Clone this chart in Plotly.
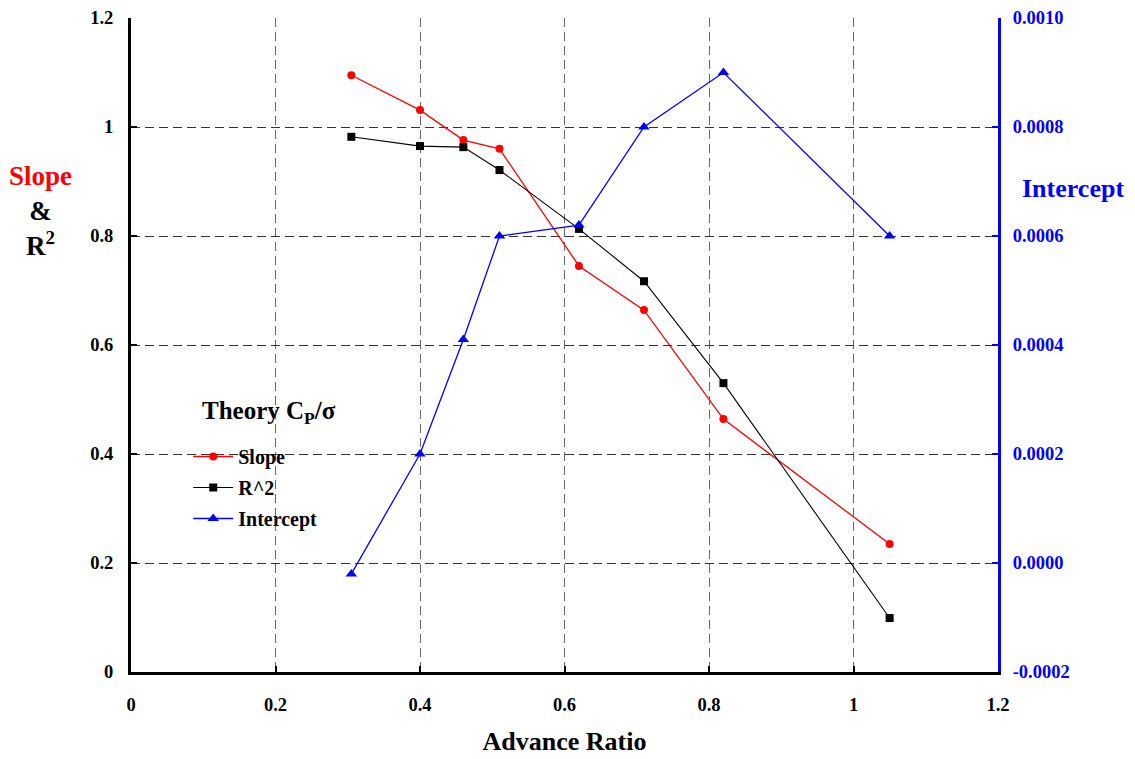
import plotly.graph_objects as go

advance_ratio = [0.305, 0.40, 0.46, 0.51, 0.62, 0.71, 0.82, 1.05]
slope = [1.095, 1.031, 0.976, 0.960, 0.745, 0.664, 0.464, 0.235]
r_squared = [0.982, 0.965, 0.963, 0.921, 0.813, 0.717, 0.530, 0.099]
intercept = [-0.00002, 0.00020, 0.00041, 0.00060, 0.00062, 0.00080, 0.00090, 0.00060]

left_ticks = [0, 0.2, 0.4, 0.6, 0.8, 1, 1.2]
right_ticks = [-0.0002, 0.0, 0.0002, 0.0004, 0.0006, 0.0008, 0.0010]
x_ticks = [0, 0.2, 0.4, 0.6, 0.8, 1, 1.2]

FONT = "Liberation Serif"
TICK = 18.5

fig = go.Figure()
fig.add_trace(go.Scatter(x=advance_ratio, y=slope, name="<b>Slope</b>", mode="lines+markers",
                         legendgroup="a",
                         line=dict(color="#ff0000", width=1.3),
                         marker=dict(symbol="circle", size=8, color="#ff0000")))
fig.add_trace(go.Scatter(x=advance_ratio, y=r_squared, name="<b>R^2</b>", mode="lines+markers",
                         legendgroup="b",
                         line=dict(color="#000000", width=1.1),
                         marker=dict(symbol="square", size=8, color="#000000")))
fig.add_trace(go.Scatter(x=advance_ratio, y=intercept, name="<b>Intercept</b>", mode="lines+markers",
                         yaxis="y2", legendgroup="c",
                         line=dict(color="#0000ff", width=1.3),
                         marker=dict(symbol="triangle-up", size=10, color="#0000ff")))

fig.update_layout(
    width=1135, height=759,
    margin=dict(l=123, r=145, t=10, b=95),
    paper_bgcolor="white", plot_bgcolor="white",
    font=dict(family=FONT, size=20, color="black"),
    showlegend=True,
    legend=dict(x=0.066, y=(672 - 437) / 654, xanchor="left", yanchor="top",
                bgcolor="rgba(0,0,0,0)",
                font=dict(size=20, family=FONT), tracegroupgap=2, itemwidth=40),
    xaxis=dict(range=[0, 1.2], tickvals=x_ticks, ticktext=[f"<b>{v:g}</b>" for v in x_ticks],
               showgrid=True, gridcolor="#666666", griddash="9px,5px", gridwidth=1,
               showline=True, linecolor="black", linewidth=3,
               ticks="inside", ticklen=6, tickcolor="black", tickwidth=2,
               zeroline=False, tickfont=dict(size=TICK, family=FONT), ticklabelstandoff=14,
               ticklabeloverflow="allow", automargin=False,
               title=dict(text="<b>Advance Ratio</b>", font=dict(size=26, family=FONT), standoff=18)),
    yaxis=dict(range=[0, 1.2], tickvals=left_ticks, ticktext=[f"<b>{v:g}</b>" for v in left_ticks],
               showgrid=True, gridcolor="#333333", griddash="9px,5px", gridwidth=1,
               showline=True, linecolor="black", linewidth=3,
               ticks="inside", ticklen=6, tickcolor="black", tickwidth=2,
               zeroline=False, tickfont=dict(size=TICK, family=FONT), ticklabelstandoff=11,
               ticklabeloverflow="allow", automargin=False),
    yaxis2=dict(range=[-0.0002, 0.0010], overlaying="y", side="right",
                tickvals=right_ticks, ticktext=[f"<b>{v:.4f}</b>" for v in right_ticks],
                showgrid=False, showline=True, linecolor="#0000ff", linewidth=3,
                ticks="inside", ticklen=6, tickcolor="#0000ff", tickwidth=2,
                zeroline=False, tickfont=dict(size=TICK, color="#0000ff", family=FONT),
                ticklabelstandoff=8, ticklabeloverflow="allow", automargin=False),
)

fig.add_annotation(xref="paper", yref="paper", x=-0.104, y=0.705,
                   text="<b><span style='color:#ff0000'>Slope</span><br>&amp;<br>R<sup>2</sup></b>",
                   showarrow=False, font=dict(size=27, family=FONT, color="black"),
                   align="center", xanchor="center", yanchor="middle")
fig.add_annotation(xref="paper", yref="paper", x=1.0865, y=0.74,
                   text="<b>Intercept</b>", showarrow=False,
                   font=dict(size=26, family=FONT, color="#0000ff"),
                   xanchor="center", yanchor="middle")
fig.add_annotation(xref="paper", yref="paper", x=(200 - 131) / 867, y=(672 - 412) / 654,
                   text="<b>Theory C<sub>P</sub>/σ</b>", showarrow=False,
                   font=dict(size=25, family=FONT, color="black"),
                   xanchor="left", yanchor="middle")

fig.write_html("out.html")
